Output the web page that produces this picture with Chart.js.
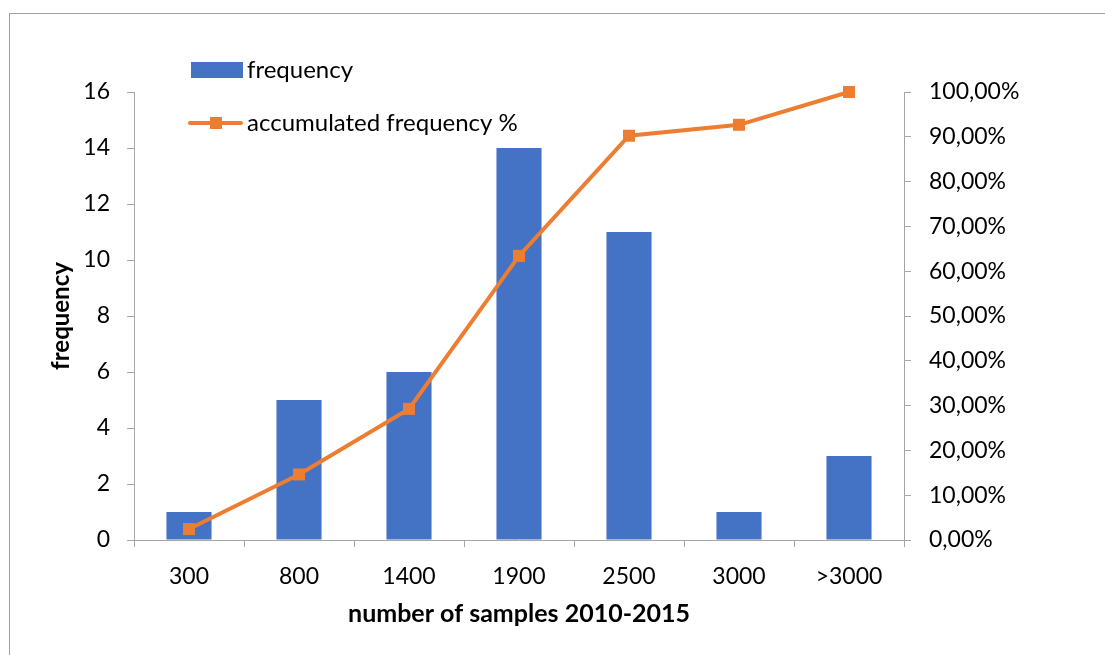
<!DOCTYPE html>
<html>
<head>
<meta charset="utf-8">
<style>
  html, body { margin: 0; padding: 0; background: #fff; }
  #wrap { width: 1105px; height: 655px; position: relative; }
</style>
<script src="https://cdn.jsdelivr.net/npm/chart.js@4/dist/chart.umd.min.js"></script>
</head>
<body>
<div id="wrap"><canvas id="c" width="1105" height="655"></canvas></div>
<script>
// Sample-count classes and their frequencies
const categories = ['300', '800', '1400', '1900', '2500', '3000', '>3000'];
const frequency = [1, 5, 6, 14, 11, 1, 3];
// Accumulated share of all samples (fraction of 41)
const accumulated = [0.0244, 0.1463, 0.2927, 0.6341, 0.9024, 0.9268, 1.0];

const FONT = 'Lato, "Open Sans", sans-serif';
const BLUE = '#4472C4';
const ORANGE = '#ED7D31';
const AXIS = '#A6A6A6';
const TEXT = '#000000';
const FS = 23;

// Thin outer frame around the chart
const framePlugin = {
  id: 'frame',
  beforeDraw(chart) {
    const ctx = chart.ctx;
    ctx.save();
    ctx.fillStyle = '#fff';
    ctx.fillRect(0, 0, chart.width, chart.height);
    ctx.strokeStyle = '#A0A0A0';
    ctx.lineWidth = 1;
    ctx.strokeRect(9.5, 13.5, 1200, 700);
    ctx.restore();
  }
};

// Legend drawn inside the plot, two stacked entries
const legendPlugin = {
  id: 'innerLegend',
  afterDraw(chart) {
    const ctx = chart.ctx;
    const ds = chart.data.datasets;
    const bar = ds.find(d => d.type === 'bar');
    const line = ds.find(d => d.type === 'line');
    ctx.save();
    ctx.font = '24px ' + FONT;
    ctx.textBaseline = 'middle';
    // bar entry
    ctx.fillStyle = bar.backgroundColor;
    ctx.fillRect(191, 62, 52, 16);
    ctx.fillStyle = TEXT;
    ctx.fillText(bar.label, 247, 70);
    // line entry
    ctx.strokeStyle = line.borderColor;
    ctx.lineWidth = 4;
    ctx.lineCap = 'round';
    ctx.beginPath();
    ctx.moveTo(190, 123);
    ctx.lineTo(241, 123);
    ctx.stroke();
    ctx.fillStyle = line.pointBackgroundColor;
    ctx.fillRect(210, 117, 12, 12);
    ctx.fillStyle = TEXT;
    ctx.fillText(line.label, 247, 123);
    ctx.restore();
  }
};

new Chart(document.getElementById('c'), {
  data: {
    labels: categories,
    datasets: [
      {
        type: 'line',
        label: 'accumulated frequency %',
        data: accumulated,
        yAxisID: 'y1',
        borderColor: ORANGE,
        borderWidth: 4,
        pointStyle: 'rect',
        pointRadius: 8.5,
        pointBackgroundColor: ORANGE,
        pointBorderColor: ORANGE,
        pointBorderWidth: 0,
        tension: 0,
        clip: false,
        order: 0
      },
      {
        type: 'bar',
        label: 'frequency',
        data: frequency,
        yAxisID: 'y',
        backgroundColor: BLUE,
        borderWidth: 0,
        barPercentage: 0.41,
        categoryPercentage: 1,
        order: 1
      }
    ]
  },
  plugins: [framePlugin, legendPlugin],
  options: {
    responsive: false,
    animation: false,
    devicePixelRatio: 1,
    layout: { padding: { top: 92, left: 0, right: 0, bottom: 0 } },
    plugins: {
      legend: { display: false },
      tooltip: { enabled: false }
    },
    scales: {
      x: {
        offset: true,
        grid: { offset: true, drawOnChartArea: false, drawTicks: true, tickLength: 7, color: AXIS },
        border: { color: AXIS, width: 1 },
        ticks: { color: TEXT, font: { family: FONT, size: FS }, padding: 16, maxRotation: 0 },
        title: {
          display: true,
          text: 'number of samples 2010-2015',
          color: TEXT,
          font: { family: FONT, size: 25, weight: 'bold' },
          padding: { top: 0, bottom: 26 }
        },
        afterFit(scale) { scale.height = 115; }
      },
      y: {
        position: 'left',
        min: 0,
        max: 16,
        ticks: { stepSize: 2, color: TEXT, font: { family: FONT, size: FS }, padding: 17 },
        grid: { drawOnChartArea: false, drawTicks: true, tickLength: 7, color: AXIS },
        border: { color: AXIS, width: 1 },
        title: {
          display: true,
          text: 'frequency',
          color: TEXT,
          font: { family: FONT, size: 24, weight: 'bold' },
          padding: { top: 47, bottom: 0 }
        },
        afterFit(scale) { scale.width = 134; }
      },
      y1: {
        position: 'right',
        min: 0,
        max: 1,
        ticks: {
          stepSize: 0.1,
          color: TEXT,
          font: { family: FONT, size: FS },
          padding: 18,
          callback: v => (v * 100).toFixed(2).replace('.', ',') + '%'
        },
        grid: { drawOnChartArea: false, drawTicks: true, tickLength: 7, color: AXIS },
        border: { color: AXIS, width: 1 },
        afterFit(scale) { scale.width = 201; }
      }
    }
  }
});
</script>
</body>
</html>
